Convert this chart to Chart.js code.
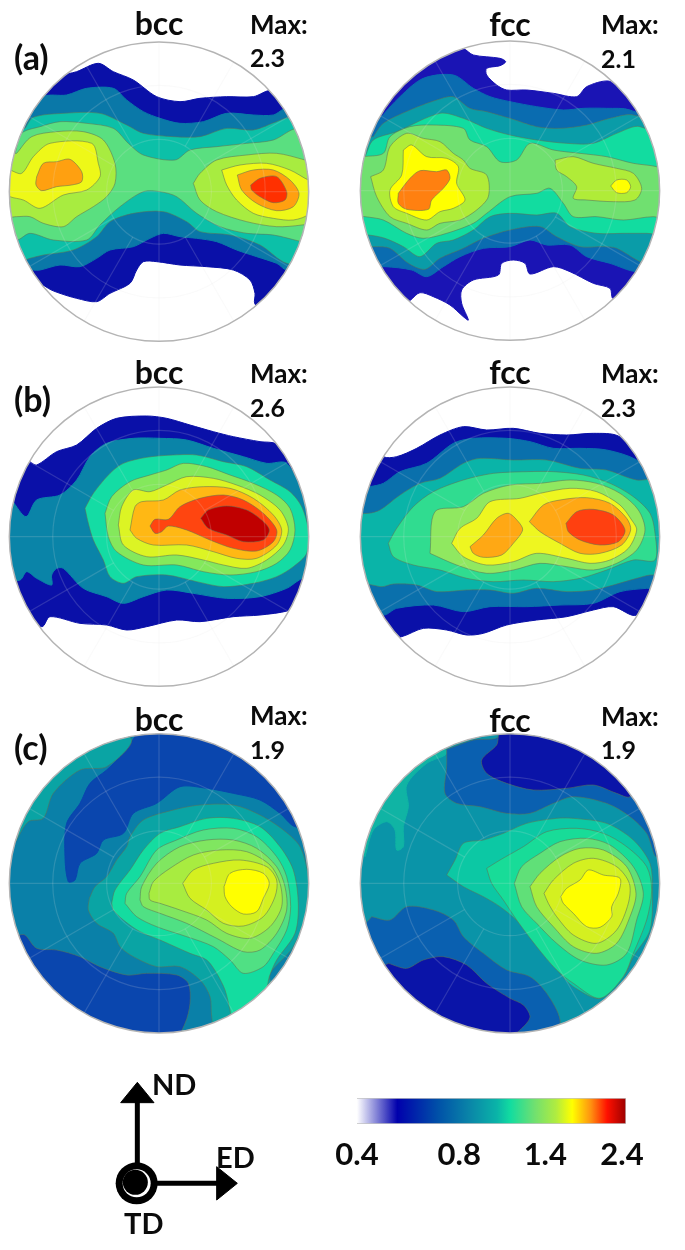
<!DOCTYPE html>
<html><head><meta charset="utf-8">
<script src="https://cdn.jsdelivr.net/npm/chart.js@4"></script>
<style>
html,body{margin:0;padding:0;background:#fff;width:685px;height:1250px;overflow:hidden}
canvas{position:absolute}
.t{position:absolute;font-family:Lato,sans-serif;color:#0b0b0b;line-height:1;transform:translateY(-50%);white-space:nowrap;font-weight:700}
</style></head><body>
<script>
// Contour outlines of each pole figure: flat x,y lists in figure units (1 px = 3 units)
const aBccL0=[120,290,180,230,230,215,295,190,340,215,400,240,470,290,540,305,600,295,680,290,760,290,815,272,900,330,960,500,960,800,820,960,765,912,765,880,750,840,700,810,620,800,540,795,470,785,430,785,410,810,390,850,330,880,290,905,230,895,180,880,145,865,60,800,0,600,0,400];
const aBccL1=[90,350,130,290,200,285,260,265,340,265,380,300,430,335,480,355,540,370,610,365,680,340,760,345,820,345,860,325,900,360,980,500,980,700,865,810,830,790,770,770,710,750,650,725,590,715,540,710,490,700,450,715,400,740,330,750,290,775,240,800,180,795,120,810,100,810,0,800,0,400];
const aBccL2=[75,385,100,352,190,340,300,340,380,375,430,400,520,410,600,410,680,385,760,390,830,365,870,355,980,450,980,800,860,790,780,735,690,705,600,695,560,665,490,635,400,640,330,665,290,710,220,750,130,765,90,775,0,800,0,400];
const aBccL3=[45,460,65,400,120,380,180,365,260,370,340,385,385,430,430,465,525,480,570,450,650,440,740,430,820,420,890,385,980,400,980,740,905,725,820,705,740,700,660,680,590,640,530,590,480,575,430,575,360,620,300,675,260,720,160,720,90,700,50,720,0,700,0,470];
const aBccL4a=[50,460,95,410,170,395,250,395,310,420,345,490,345,550,320,590,280,620,230,650,190,680,130,670,90,650,50,650,0,650,0,470];
const aBccL4b=[580,550,600,520,650,480,740,465,830,460,915,480,980,500,980,660,905,675,830,680,740,665,650,635,600,600];
const aBccL5a=[30,510,65,520,100,470,150,430,275,430,295,490,300,530,260,570,190,585,120,625,70,600,30,590,0,570];
const aBccL5b=[665,510,720,495,800,490,870,510,925,540,980,560,930,640,880,660,820,655,760,640,710,600,680,555];
const aBccL6a=[110,530,130,490,170,485,210,478,245,515,245,545,215,555,170,560,125,572,108,555];
const aBccL6b=[712,525,760,510,820,510,870,540,897,580,880,620,830,632,770,610,725,570];
const aBccL7=[752,555,780,535,830,530,860,575,855,600,820,608,780,590,755,570];

const aFccL0=[340,140,370,145,400,165,480,175,497,185,480,197,440,205,440,225,470,255,500,270,560,270,640,280,710,290,740,260,805,243,850,270,990,300,990,800,820,895,810,865,760,850,690,815,640,800,570,822,555,790,520,780,485,790,475,825,400,840,365,870,365,910,385,960,370,950,330,915,280,890,240,878,212,900,150,950,0,800,0,300,100,200];
const aFccL1=[115,360,180,290,250,235,340,225,400,265,450,290,510,305,590,320,670,330,730,325,800,325,870,330,1000,400,1000,800,890,815,810,790,740,770,690,735,620,735,570,720,510,740,430,745,360,770,310,800,260,830,215,810,135,800,0,800,0,400];
const aFccL2=[100,410,130,370,210,330,290,300,340,290,390,325,440,335,510,355,590,380,660,385,740,375,810,355,880,345,1000,400,1000,820,900,785,830,745,790,740,720,740,650,710,600,680,510,690,430,715,370,745,300,775,255,808,205,790,150,745,105,740,0,740,0,420];
const aFccL3=[75,470,100,420,170,395,300,340,370,355,440,385,510,405,590,420,680,430,760,430,830,400,900,380,1000,450,1000,700,920,700,850,700,770,700,690,680,650,640,590,645,510,640,450,650,400,690,340,720,290,730,240,770,190,740,135,715,85,705,0,700,0,470];
const aFccL4=[70,470,130,460,150,410,210,380,280,375,370,385,390,420,440,440,480,485,530,480,570,430,640,450,720,460,800,470,880,490,950,500,1000,520,1000,660,940,650,850,660,770,650,700,650,670,610,630,565,590,580,510,590,440,640,400,670,320,700,250,715,200,700,130,660,75,650,0,640,0,470];
const aFccL5a=[92,530,130,510,150,440,200,400,250,415,300,425,340,460,370,480,390,505,440,525,445,590,410,630,360,660,300,670,260,690,200,670,150,650,110,590];
const aFccL5b=[645,480,700,470,760,490,830,505,880,520,905,565,885,600,820,605,740,600,700,595,710,560,680,530,650,510];
const aFccL6a=[190,450,215,435,260,470,320,475,355,500,350,550,375,600,340,625,300,635,260,660,200,640,160,620,150,570,185,525];
const aFccL6b=[812,558,830,540,860,540,872,560,860,578,830,578];
const aFccL7=[175,580,210,535,240,512,290,515,320,510,330,535,310,565,275,600,265,628,200,628,175,610];

const bBccL0=[50,340,90,365,110,375,170,335,230,315,290,265,350,235,440,228,500,235,570,255,640,275,700,290,780,305,830,312,900,380,1000,500,1000,700,900,790,865,812,780,825,700,830,600,845,530,840,440,860,380,870,320,855,240,850,150,830,125,860,0,800,0,400];
const bBccL1=[35,480,78,530,110,480,180,465,230,420,270,350,320,310,400,295,480,295,560,300,640,325,730,350,800,370,860,370,920,480,1000,600,1000,650,890,725,860,745,780,770,680,775,580,760,500,750,430,770,370,790,320,770,250,745,190,685,170,685,155,705,155,735,110,715,80,695,60,720,0,720,0,480];
const bBccL2=[255,505,280,460,330,400,370,370,440,352,520,345,590,345,670,365,740,380,810,420,870,455,905,500,925,570,920,640,880,680,830,710,760,730,670,740,590,725,500,705,410,710,370,730,330,710,310,660,280,600,265,550];
const bBccL3=[315,520,335,470,390,425,450,405,500,390,550,370,620,380,690,405,760,430,830,465,870,505,885,570,870,630,830,670,770,695,690,705,610,695,530,675,430,675,350,635,325,590];
const bBccL4=[355,555,365,500,400,450,450,455,500,435,560,410,640,415,710,435,780,465,840,510,865,565,850,615,800,660,740,685,670,675,610,660,530,645,440,650,370,615];
const bBccL5=[390,570,405,500,425,485,490,480,540,450,610,440,690,445,760,475,820,525,845,570,830,615,770,655,710,655,640,635,560,615,460,615,410,595];
const bBccL6=[450,558,465,538,505,538,540,500,600,475,670,465,730,480,790,520,830,570,820,605,770,633,700,625,630,600,560,570,505,558,485,575,465,580];
const bBccL7=[602,535,625,510,680,498,740,510,785,540,808,570,790,600,730,605,680,585,625,565];

const bFccL0=[100,310,130,350,170,350,230,325,300,285,370,260,440,270,520,265,600,280,680,285,760,280,835,288,900,350,1000,500,1000,700,890,825,820,800,760,810,680,830,590,840,500,855,430,880,380,885,320,870,250,865,185,890,100,900,0,700,0,400];
const bFccL1=[40,450,90,440,130,430,180,395,260,370,340,310,400,295,500,295,570,305,640,325,720,325,800,330,890,360,1000,450,1000,740,920,745,840,755,760,790,660,795,560,800,450,800,370,815,280,795,170,805,130,825,40,780,0,600];
const bFccL2=[20,520,85,520,120,510,180,465,240,430,300,415,370,370,420,355,520,360,620,360,720,385,800,390,890,420,1000,420,1000,700,930,705,890,715,820,735,760,750,680,755,590,745,520,760,450,750,380,750,290,755,230,735,160,732,120,740,20,700];
const bFccL3=[145,610,170,565,220,500,280,455,370,420,460,400,560,395,640,395,730,405,810,430,880,470,930,520,945,580,945,660,880,660,800,690,720,715,640,725,550,720,460,725,380,715,300,690,220,675,160,650];
const bFccL4=[270,640,285,515,370,500,430,460,510,435,600,430,690,420,770,430,840,460,895,510,915,570,890,630,830,670,760,690,680,680,600,670,520,690,440,700,350,675];
const bFccL5=[335,610,360,565,410,535,450,485,540,475,600,460,690,445,770,455,840,495,875,540,890,570,865,625,810,660,750,670,680,655,590,640,520,665,440,675,370,650];
const bFccL6a=[390,620,430,585,470,535,505,520,535,545,548,570,520,610,485,645,430,652,400,640];
const bFccL6b=[568,545,610,495,660,480,740,473,810,490,860,535,872,570,845,615,780,640,720,640,660,610,600,575];
const bFccL7=[678,550,710,515,760,508,820,525,855,570,835,605,780,615,720,600,685,575];

const cBccBase=[0,100,1000,100,1000,1050,0,1050];
const cBccTop=[405,140,370,190,320,240,270,280,240,340,200,400,195,500,205,575,225,570,240,520,290,490,310,450,370,430,400,370,470,340,540,290,620,295,700,310,780,330,840,370,885,410,950,400,900,200,600,50,400,50];
const cBccLow=[55,735,75,735,110,775,170,780,240,800,300,830,380,855,440,850,530,855,565,880,570,940,555,1000,520,1050,200,1050,0,800];
const cBccStrip=[25,500,50,450,85,395,130,385,160,310,240,240,320,230,395,150,300,100,100,250,0,450];
const cBccL2=[268,625,285,590,320,560,350,510,380,470,390,440,430,390,520,360,600,345,700,345,780,375,850,420,900,470,925,560,925,650,880,770,810,850,815,880,840,900,760,1000,650,1040,635,980,630,920,600,870,540,830,470,830,400,800,360,770,340,730,290,700,265,660];
const cBccL3=[335,640,345,600,390,540,430,480,480,430,540,410,620,385,700,385,780,410,840,470,880,540,895,640,885,730,830,810,808,860,800,900,780,960,700,1000,690,960,675,900,650,850,620,810,570,790,480,750,420,725,370,690,340,660];
const cBccL4=[375,640,380,610,420,560,470,480,530,450,610,420,700,415,770,440,830,500,860,560,872,650,860,720,820,790,790,830,730,850,690,810,640,770,560,740,470,710,410,680];
const cBccL5=[420,630,425,590,470,520,540,470,620,450,700,450,770,475,830,530,855,590,860,660,830,730,780,780,730,785,650,745,560,700,480,670,430,650];
const cBccL6=[447,610,460,575,510,535,580,495,660,480,740,485,810,525,840,580,845,650,810,710,750,745,680,730,620,690,540,660,480,640,450,630];
const cBccL7=[548,580,580,540,640,520,720,510,800,530,830,570,825,620,790,680,730,708,670,700,620,660,570,625];
const cBccL8=[672,590,690,550,740,538,790,550,808,580,790,625,770,665,730,672,695,650,675,620];

const cFccBase=[0,100,1035,100,1035,1050,0,1050];
const cFccStrip=[75,500,100,420,140,395,165,420,170,480,190,470,190,410,205,350,200,285,260,220,320,190,290,150,150,250,60,450];
const cFccL0a=[320,178,320,230,315,310,350,340,420,350,500,370,570,370,640,340,700,320,800,340,870,380,920,430,950,500,1000,400,800,100,480,60,475,140,400,150];
const cFccL0b=[95,680,150,690,200,650,280,660,340,690,370,740,430,790,500,840,570,860,620,910,660,990,640,1045,300,1045,0,800];
const cFccD0a=[475,140,470,165,425,210,440,250,500,280,580,300,680,295,760,285,830,310,870,320,900,250,700,100,480,60];
const cFccD0b=[145,820,200,835,250,810,310,800,380,825,440,880,510,925,550,945,570,980,550,1010,500,1045,200,1000,100,850];
const cFccL2=[320,555,345,510,370,460,430,450,490,430,560,400,650,385,700,385,800,400,880,450,930,520,937,600,930,720,880,800,850,860,780,925,700,890,660,850,600,770,540,700,480,650,430,620,370,590];
const cFccL3=[440,535,480,510,550,470,620,425,710,415,790,430,860,470,920,530,935,600,920,690,880,790,850,860,780,925,700,880,650,840,590,770,530,690,490,630,455,580];
const cFccL4=[523,580,545,530,600,490,660,455,740,445,810,465,880,530,910,610,890,690,860,790,800,825,720,810,650,760,590,700,545,650];
const cFccL5=[570,590,600,550,660,500,720,475,790,480,860,530,888,610,870,680,830,760,770,790,700,770,640,710,590,650];
const cFccL6=[612,610,640,570,700,520,760,505,830,530,868,580,865,640,830,720,770,760,700,735,650,680,625,640];
const cFccL7=[662,620,680,595,720,570,745,540,790,555,840,565,835,610,815,650,815,680,780,712,740,710,700,670,670,640];

// Colour bar ramp and axis labels
const rampStops=[0,0.15,0.3,0.42,0.52,0.57,0.66,0.74,0.8,0.87,0.93,1];
const rampColors=['#ffffff','#0000ac','#0050a8','#0a86a8','#0ab4a8','#12dca0','#70e070','#b0ec40','#ffff00','#ff9010','#ff1000','#9c0000'];
const barTickValues=[0,0.38,0.70,0.985];
const barTickLabels=['0.4','0.8','1.4','2.4'];

// Key arrows, in the same figure units
const ndShaft=[142,400,142,140]; const ndHead=[142,97,92,158,192,158];
const edShaft=[142,400,385,400]; const edHead=[380,350,442,400,380,450];
const tdRing=[140,400]; const tdDot=[136,397];

const C={dark:'#0a10a8',blue:'#0a78a8',teal:'#0aa8a8',sea:'#12d8a0',green:'#5adf80',lime:'#a8ec40',yel:'#eef818',yellow:'#ffff00',orange:'#ffa010',red:'#ff4010',dred:'#c80000'};

const panels=[
 {x:0,y:0,w:340,cx:477,cy:575,layers:[[aBccL0,C.dark],[aBccL1,C.blue],[aBccL2,'#0cc0a8'],[aBccL3,C.green],[aBccL4a,C.lime],[aBccL4b,C.lime],[aBccL5a,C.yel],[aBccL5b,C.yel],[aBccL6a,C.orange],[aBccL6b,C.orange],[aBccL7,'#ff3000']]},
 {x:340,y:0,w:345,cx:510,cy:572,layers:[[aFccL0,'#1a14b4'],[aFccL1,'#0a6cb0'],[aFccL2,'#0a9ca8'],[aFccL3,'#12dca0'],[aFccL4,'#70e070'],[aFccL5a,'#b0ec38'],[aFccL5b,'#b0ec38'],[aFccL6a,C.yellow],[aFccL6b,C.yellow],[aFccL7,'#ff8010']]},
 {x:0,y:340,w:340,cx:477,cy:590,layers:[[bBccL0,C.dark],[bBccL1,'#0a84a8'],[bBccL2,'#14dca4'],[bBccL3,'#84e85c'],[bBccL4,'#dcf424'],[bBccL5,'#ffb814'],[bBccL6,'#ff4510'],[bBccL7,'#c00000']]},
 {x:340,y:340,w:345,cx:510,cy:590,layers:[[bFccL0,C.dark],[bFccL1,'#0a70ac'],[bFccL2,'#0ab4a8'],[bFccL3,'#30dc90'],[bFccL4,'#90e860'],[bFccL5,'#eef620'],[bFccL6a,'#ffa814'],[bFccL6b,'#ffa814'],[bFccL7,'#ff4010']]},
 {x:0,y:690,w:340,cx:477,cy:580,layers:[[cBccBase,'#0a80a8'],[cBccTop,'#0a46ae'],[cBccLow,'#0a46ae'],[cBccStrip,'#0aa4a4'],[cBccL2,'#0aa4a4'],[cBccL3,'#14dca0'],[cBccL4,'#50e084'],[cBccL5,'#80e660'],[cBccL6,'#a8ec40'],[cBccL7,'#d4f020'],[cBccL8,'#ffff00']]},
 {x:340,y:690,w:345,cx:510,cy:580,layers:[[cFccBase,'#0a94a8'],[cFccStrip,'#10b4a4'],[cFccL0a,'#0a60b0'],[cFccL0b,'#0a60b0'],[cFccD0a,'#0a14a8'],[cFccD0b,'#0a14a8'],[cFccL2,'#0cc8a4'],[cFccL3,'#18dc98'],[cFccL4,'#60e078'],[cFccL5,'#a8ec40'],[cFccL6,'#d4f020'],[cFccL7,'#ffff00']]}
];
const RADIUS=449, H=350;
const pts=a=>{const o=[];for(let i=0;i<a.length;i+=2)o.push({x:a[i],y:a[i+1]});o.push({x:a[0],y:a[1]});return o;};
const hiddenScale=(max,rev)=>({type:'linear',display:false,min:0,max,reverse:!!rev});

function addCanvas(x,y,w,h){const c=document.createElement('canvas');c.width=w;c.height=h;c.style.cssText=`left:${x}px;top:${y}px;width:${w}px;height:${h}px`;document.body.appendChild(c);return c;}

const poleDisc={id:'poleDisc',
 beforeDatasetsDraw(ch,_,o){const {x,y}=ch.scales,c=ch.ctx;c.save();c.beginPath();c.arc(x.getPixelForValue(o.cx),y.getPixelForValue(o.cy),o.r/3,0,7);c.clip();},
 afterDatasetsDraw(ch,_,o){const {x,y}=ch.scales,c=ch.ctx,px=x.getPixelForValue(o.cx),py=y.getPixelForValue(o.cy),r=o.r/3;
  c.restore();c.save();c.strokeStyle='rgba(225,225,225,0.17)';c.lineWidth=1.2;
  for(const f of [0.35,0.71]){c.beginPath();c.arc(px,py,r*f,0,7);c.stroke();}
  for(let k=0;k<12;k++){const a=k*Math.PI/6,i=(k%3===0)?0:0.35;c.beginPath();c.moveTo(px+Math.cos(a)*r*i,py+Math.sin(a)*r*i);c.lineTo(px+Math.cos(a)*r,py+Math.sin(a)*r);c.stroke();}
  c.strokeStyle='#b4b4b4';c.lineWidth=1.5;c.beginPath();c.arc(px,py,r,0,7);c.stroke();c.restore();}
};

panels.forEach(p=>{
 const cv=addCanvas(p.x,p.y,p.w,H);
 new Chart(cv,{type:'scatter',plugins:[poleDisc],
  data:{datasets:p.layers.map(([a,col],i)=>({data:pts(a),showLine:true,fill:'shape',backgroundColor:col,
    borderColor:i<2?col:'rgba(95,115,85,0.55)',borderWidth:1,pointRadius:0,tension:0.3,order:100-i,clip:false}))},
  options:{responsive:false,animation:false,events:[],layout:{padding:0,autoPadding:false},
   elements:{line:{capBezierPoints:false}},
   scales:{x:hiddenScale(p.w*3),y:hiddenScale(H*3,true)},
   plugins:{legend:{display:false},tooltip:{enabled:false},poleDisc:{cx:p.cx,cy:p.cy,r:RADIUS}}}});
});

// colour bar
const barCanvas=addCanvas(325,1090,360,80);
const ramp=barCanvas.getContext('2d').createLinearGradient(32,0,301,0);
rampStops.forEach((s,i)=>ramp.addColorStop(s,rampColors[i]));
new Chart(barCanvas,{type:'bar',
 data:{labels:[''],datasets:[{data:[1],backgroundColor:ramp,borderColor:'rgba(170,170,170,0.7)',borderWidth:1,barPercentage:1,categoryPercentage:1}]},
 options:{indexAxis:'y',responsive:false,animation:false,events:[],layout:{padding:{left:32,right:59,top:8,bottom:0},autoPadding:false},
  scales:{y:{display:false},
   x:{min:0,max:1,grid:{display:false},border:{display:false},afterFit(s){s.height=46;},
    afterBuildTicks(s){s.ticks=barTickValues.map(v=>({value:v}));},
    ticks:{autoSkip:false,maxRotation:0,minRotation:0,padding:4,color:'#0b0b0b',font:{family:'Lato',size:31,weight:'bold'},callback:(v,i)=>barTickLabels[i]}}},
  plugins:{legend:{display:false},tooltip:{enabled:false}}}});

// key arrows
const key=[[ndHead,1],[edHead,1],[ndShaft,0],[edShaft,0]].map(([a,f])=>({data:f?pts(a):pts(a).slice(0,2),showLine:true,fill:f?'shape':false,backgroundColor:'#000',borderColor:'#000',borderWidth:f?1:5,pointRadius:0,clip:false,order:10}));
const ring=(c,r,col,o)=>({data:[{x:c[0],y:c[1]}],pointRadius:r,pointBackgroundColor:col,pointBorderWidth:0,order:o,clip:false});
new Chart(addCanvas(90,1050,180,200),{type:'scatter',
 data:{datasets:[...key,ring(tdRing,21,'#000',5),ring(tdRing,14,'#fff',4),ring(tdDot,12.5,'#000',3)]},
 options:{responsive:false,animation:false,events:[],layout:{padding:0,autoPadding:false},
  scales:{x:hiddenScale(540),y:hiddenScale(600,true)},plugins:{legend:{display:false},tooltip:{enabled:false}}}});

// texts: [string, left or center x, center y, size, weight, anchor]
const texts=[
 ['(a)',14,57,34,700],['bcc',159,23,32,700,1],['Max:',250,24,26,700],['2.3',250,57,25,700],['fcc',510,24,32,700,1],['Max:',601,24,26,700],['2.1',601,58,25,700],
 ['(b)',14,399,34,700],['bcc',159,372,32,700,1],['Max:',250,373,26,700],['2.6',250,407,25,700],['fcc',510,372,32,700,1],['Max:',601,373,26,700],['2.3',601,407,25,700],
 ['(c)',14,747,34,700],['bcc',159,719,32,700,1],['Max:',250,715,26,700],['1.9',250,749,25,700],['fcc',510,720,32,700,1],['Max:',601,716,26,700],['1.9',601,749,25,700],
 ['ND',152,1083,29,700],['ED',216,1156,29,700],['TD',124,1222,29,700]];
texts.forEach(([s,x,y,size,w,center])=>{const d=document.createElement('div');d.className='t';d.textContent=s;
 d.style.cssText=`left:${x}px;top:${y}px;font-size:${size}px;font-weight:${w};`+(center?'transform:translate(-50%,-50%);':'');document.body.appendChild(d);});
</script>
</body></html>
